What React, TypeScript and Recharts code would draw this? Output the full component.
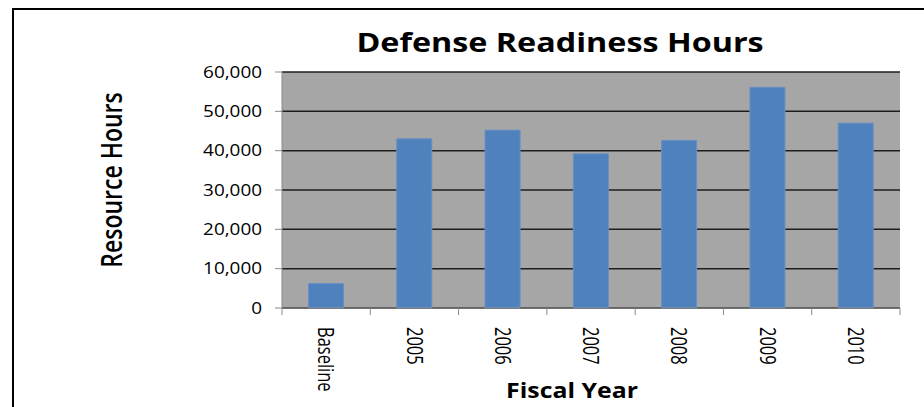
import React from 'react';
import { BarChart, Bar, XAxis, YAxis, CartesianGrid, Label } from 'recharts';

// Readiness hours per fiscal year
const categories = ['Baseline', '2005', '2006', '2007', '2008', '2009', '2010'];
const hours = [6200, 43000, 45200, 39200, 42600, 56100, 47000];
const yTicks = [0, 10000, 20000, 30000, 40000, 50000, 60000];

const data = categories.map((year, i) => ({ year, hours: hours[i] }));

const FONT = '"Open Sans", "Liberation Sans", sans-serif';
const AXIS_GRAY = '#8a8a8a';
// text is drawn a little wide, as in the exported sheet
const WIDE = 1.22;

// Category axis tick: boundary tick marks plus label rotated to read downward
const CategoryTick = (props: any) => {
  const { x, y, payload, index, visibleTicksCount } = props;
  const half = payload?.offset ?? 0;
  const top = y - 19;
  return (
    <g>
      <line x1={x - half} x2={x - half} y1={top} y2={top + 7} stroke={AXIS_GRAY} strokeWidth={1} />
      {index === visibleTicksCount - 1 && (
        <line x1={x + half} x2={x + half} y1={top} y2={top + 7} stroke={AXIS_GRAY} strokeWidth={1} />
      )}
      <text
        transform={`translate(${x}, ${y}) scale(1.3, 1) rotate(90)`}
        textAnchor="start"
        dominantBaseline="central"
        fontFamily={FONT}
        fontSize={16.5}
        fill="#000"
      >
        {payload.value}
      </text>
    </g>
  );
};

const ValueTick = (props: any) => {
  const { x, y, payload } = props;
  return (
    <text
      transform={`translate(${x}, ${y}) scale(${WIDE}, 1)`}
      textAnchor="end"
      dominantBaseline="central"
      fontFamily={FONT}
      fontSize={15.5}
      fill="#000"
    >
      {Number(payload.value).toLocaleString('en-US')}
    </text>
  );
};

export default function App() {
  return (
    <div style={{ position: 'relative', width: 924, height: 407, background: '#fff', overflow: 'hidden' }}>
      <style>{'body{margin:0}'}</style>
      <svg width={924} height={407} style={{ position: 'absolute', left: 0, top: 0 }}>
        <rect x={13} y={9} width={1000} height={1000} fill="none" stroke="#000" strokeWidth={2} />
        <text
          transform={`translate(560, 52) scale(${WIDE}, 1)`}
          textAnchor="middle"
          fontFamily={FONT}
          fontWeight={700}
          fontSize={26.5}
          fill="#000"
        >
          Defense Readiness Hours
        </text>
      </svg>
      <div style={{ position: 'absolute', left: 0, top: 0 }}>
        <BarChart
          width={924}
          height={407}
          data={data}
          margin={{ top: 72, right: 24, bottom: 0, left: 0 }}
          barCategoryGap="30%"
        >
          <CartesianGrid vertical={false} fill="#a6a6a6" stroke="#1e1e1e" strokeWidth={1.5} />
          <XAxis
            dataKey="year"
            height={99}
            stroke={AXIS_GRAY}
            tickLine={false}
            tickSize={7}
            tickMargin={12}
            interval={0}
            tick={<CategoryTick />}
          >
            <Label
              content={() => (
                <text
                  transform={`translate(572, 398) scale(${WIDE * 0.97}, 1)`}
                  textAnchor="middle"
                  fontFamily={FONT}
                  fontWeight={700}
                  fontSize={21}
                  fill="#000"
                >
                  Fiscal Year
                </text>
              )}
            />
          </XAxis>
          <YAxis
            width={282}
            domain={[0, 60000]}
            ticks={yTicks}
            interval={0}
            stroke={AXIS_GRAY}
            tickSize={7}
            tickMargin={13}
            tick={<ValueTick />}
          >
            <Label
              content={() => (
                <text
                  transform={`translate(112, 180) scale(${WIDE}, 1) rotate(-90)`}
                  textAnchor="middle"
                  dominantBaseline="central"
                  fontFamily={FONT}
                  fontWeight={600}
                  fontSize={23}
                  fill="#000"
                >
                  Resource Hours
                </text>
              )}
            />
          </YAxis>
          <Bar dataKey="hours" fill="#4f81bd" stroke="#6790c6" strokeWidth={1} isAnimationActive={false} />
        </BarChart>
      </div>
    </div>
  );
}
